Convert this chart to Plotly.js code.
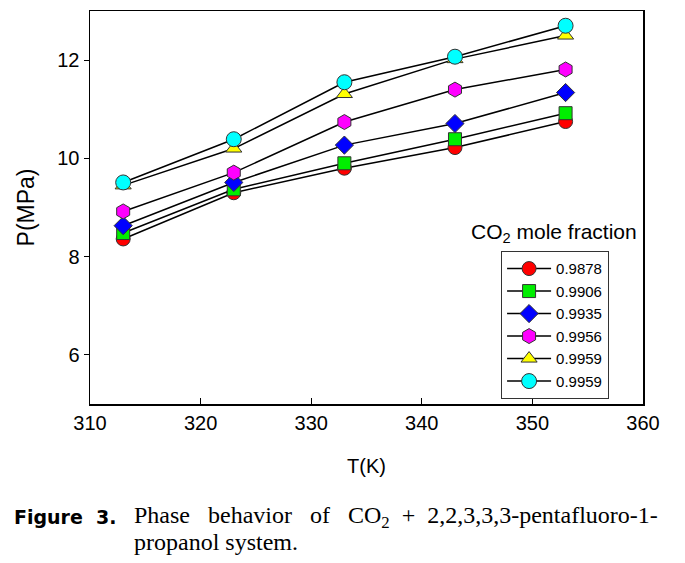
<!DOCTYPE html>
<html>
<head>
<meta charset="utf-8">
<script src="https://cdn.plot.ly/plotly-3.0.1.min.js"></script>
<style>html,body{margin:0;padding:0;background:#fff;}#chart{width:685px;height:563px;}</style>
</head>
<body>
<div id="chart"></div>
<script>
const temps = [313, 323, 333, 343, 353];
const names = ["0.9878", "0.9906", "0.9935", "0.9956", "0.9959", "0.9959"];
const p9878 = [8.36, 9.30, 9.80, 10.22, 10.75];
const p9906 = [8.48, 9.37, 9.90, 10.39, 10.92];
const p9935 = [8.63, 9.51, 10.27, 10.71, 11.34];
const p9956 = [8.92, 9.71, 10.74, 11.40, 11.81];
const p9959a = [9.45, 10.20, 11.31, 12.02, 12.50];
const p9959b = [9.51, 10.39, 11.55, 12.07, 12.70];
const xTicks = [310, 320, 330, 340, 350, 360];
const yTicks = [6, 8, 10, 12];

const series = [p9878, p9906, p9935, p9956, p9959a, p9959b];
const colors = ["#ff0000", "#00ee00", "#0000ff", "#ff00ff", "#ffff00", "#00ffff"];
const symbols = ["circle", "square", "diamond", "hexagon", "triangle-up", "circle"];
const sizes = [14, 13, 14, 15, 14, 15];

const traces = series.map((ys, i) => ({
  x: temps, y: ys, name: names[i], type: "scatter", mode: "lines+markers",
  line: {color: "#000", width: 1.5},
  marker: {symbol: symbols[i], size: sizes[i], color: colors[i], line: {color: "#333", width: 1}}
}));

const S = "\u00a0";
const line1 = "Phase" + S + S + S + "behavior" + S + S + S + "of" + S + S + S + "CO<sub>2</sub>" + S + S + "+" + S + S + "2,2,3,3,3-pentafluoro-1-";

const layout = {
  width: 685, height: 563,
  margin: {l: 90, r: 42, t: 11, b: 159},
  paper_bgcolor: "#fff", plot_bgcolor: "#fff",
  font: {family: "Liberation Sans, Arial, sans-serif", color: "#000"},
  showlegend: true,
  xaxis: {
    range: [310, 360], tickvals: xTicks, ticks: "inside", ticklen: 6, tickcolor: "#000",
    showline: true, linecolor: "#000", linewidth: 1.5, mirror: true, showgrid: false, zeroline: false,
    tickfont: {size: 20}, title: {text: "T(K)", font: {size: 20}, standoff: 26}
  },
  yaxis: {
    range: [5, 13], tickvals: yTicks, ticks: "outside", ticklen: 5, tickcolor: "#000",
    showline: true, linecolor: "#000", linewidth: 1.5, mirror: true, showgrid: false, zeroline: false,
    tickfont: {size: 20}, title: {text: "P(MPa)", font: {size: 23}, standoff: 16}
  },
  legend: {
    x: 0.743, y: 0.389, xanchor: "left", yanchor: "top",
    bordercolor: "#333", borderwidth: 1.2, bgcolor: "#fff",
    font: {size: 15}, tracegroupgap: 0, itemwidth: 44
  },
  annotations: [
    {text: "CO<sub>2</sub> mole fraction", xref: "paper", yref: "paper", x: 0.839, y: 0.435,
     xanchor: "center", yanchor: "middle", showarrow: false, font: {size: 21}},
    {text: "<b>Figure" + S + S + "3.</b>", xref: "paper", yref: "paper", x: -0.141, y: -0.287,
     xanchor: "left", yanchor: "middle", showarrow: false,
     font: {size: 19, family: "DejaVu Sans, sans-serif"}},
    {text: line1, xref: "paper", yref: "paper", x: 0.076, y: -0.287,
     xanchor: "left", yanchor: "middle", showarrow: false,
     font: {size: 24, family: "Liberation Serif, Times New Roman, serif"}},
    {text: "propanol system.", xref: "paper", yref: "paper", x: 0.076, y: -0.352,
     xanchor: "left", yanchor: "middle", showarrow: false,
     font: {size: 24, family: "Liberation Serif, Times New Roman, serif"}}
  ]
};

Plotly.newPlot("chart", traces, layout, {displayModeBar: false, staticPlot: true});
</script>
</body>
</html>
